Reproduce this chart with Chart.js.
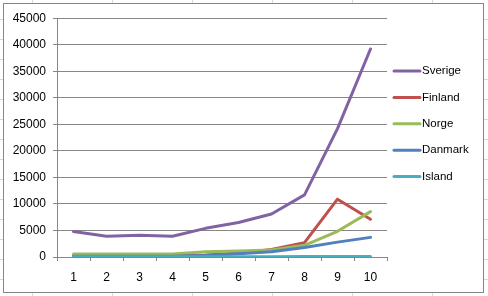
<!DOCTYPE html>
<html>
<head>
<meta charset="utf-8">
<script src="https://cdn.jsdelivr.net/npm/chart.js@4/dist/chart.umd.min.js"></script>
<style>
  html, body {
    margin: 0;
    padding: 0;
    width: 488px;
    height: 296px;
    overflow: hidden;
    background-color: #fff;
    background-image:
      repeating-linear-gradient(to right, transparent 0, transparent 32px, #d0d7e5 32px, #d0d7e5 33px, transparent 33px, transparent 80px),
      repeating-linear-gradient(to bottom, transparent 0, transparent 19px, #d0d7e5 19px, #d0d7e5 20px);
  }
  #frame {
    position: absolute;
    left: 3px;
    top: 3px;
    width: 481px;
    height: 290px;
    box-sizing: border-box;
    border: 1px solid #868686;
    background: #fff;
  }
</style>
</head>
<body>
<div id="frame"><canvas id="chart"></canvas></div>
<script>
// Data
const categories = ['1', '2', '3', '4', '5', '6', '7', '8', '9', '10'];
const seriesNames = ['Sverige', 'Finland', 'Norge', 'Danmark', 'Island'];
const sverige = [4800, 3900, 4100, 3900, 5400, 6500, 8100, 11700, 24200, 39200];
const finland = [300, 300, 300, 300, 400, 700, 1400, 2700, 10900, 7100];
const norge = [550, 550, 550, 550, 1000, 1150, 1300, 2200, 4850, 8550];
const danmark = [150, 150, 150, 150, 300, 600, 1000, 1800, 2800, 3700];
const island = [50, 50, 50, 50, 60, 60, 70, 80, 80, 90];
const yTicks = [0, 5000, 10000, 15000, 20000, 25000, 30000, 35000, 40000, 45000];

const colors = ['#8064A2', '#C0504D', '#9BBB59', '#4F81BD', '#4BACC6'];
const values = [sverige, finland, norge, danmark, island];
const fontFamily = '"Liberation Sans", Arial, sans-serif';

// Legend drawn at the right, like the Excel one
const sideLegend = {
    id: 'sideLegend',
    afterDraw(chart) {
        const ctx = chart.ctx;
        ctx.save();
        ctx.font = '11.5px ' + fontFamily;
        ctx.textBaseline = 'middle';
        ctx.textAlign = 'left';
        chart.data.datasets.forEach((ds, i) => {
            const y = 67 + i * 26.4;
            ctx.strokeStyle = ds.borderColor;
            ctx.lineWidth = 3;
            ctx.lineCap = 'round';
            ctx.beginPath();
            ctx.moveTo(390, y);
            ctx.lineTo(416, y);
            ctx.stroke();
            ctx.fillStyle = '#000';
            ctx.fillText(ds.label, 418, y);
        });
        ctx.restore();
    }
};

const ctx = document.getElementById('chart').getContext('2d');
new Chart(ctx, {
    type: 'line',
    data: {
        labels: categories,
        datasets: seriesNames.map((name, i) => ({
            label: name,
            data: values[i],
            borderColor: colors[i],
            backgroundColor: colors[i],
            borderWidth: 3,
            pointRadius: 0,
            tension: 0,
            borderJoinStyle: 'round',
            borderCapStyle: 'round',
            order: seriesNames.length - 1 - i
        }))
    },
    options: {
        responsive: true,
        maintainAspectRatio: false,
        animation: false,
        layout: {
            padding: { left: 0, top: 13, right: 96, bottom: 0 }
        },
        scales: {
            x: {
                offset: true,
                grid: {
                    offset: true,
                    drawOnChartArea: false,
                    drawTicks: true,
                    tickLength: 4,
                    color: '#868686'
                },
                border: { color: '#868686' },
                ticks: {
                    color: '#000',
                    padding: 9,
                    maxRotation: 0,
                    font: { family: fontFamily, size: 12 }
                },
                afterFit(scale) { scale.height = 35; }
            },
            y: {
                min: 0,
                max: 45000,
                afterBuildTicks(scale) {
                    scale.ticks = yTicks.map(v => ({ value: v }));
                },
                grid: {
                    color: '#868686',
                    tickLength: 4
                },
                border: { color: '#868686' },
                ticks: {
                    color: '#000',
                    padding: 7,
                    font: { family: fontFamily, size: 12 },
                    callback: v => String(v)
                },
                afterFit(scale) { scale.width = 53; }
            }
        },
        plugins: {
            legend: { display: false },
            tooltip: { enabled: false }
        }
    },
    plugins: [sideLegend]
});
</script>
</body>
</html>
